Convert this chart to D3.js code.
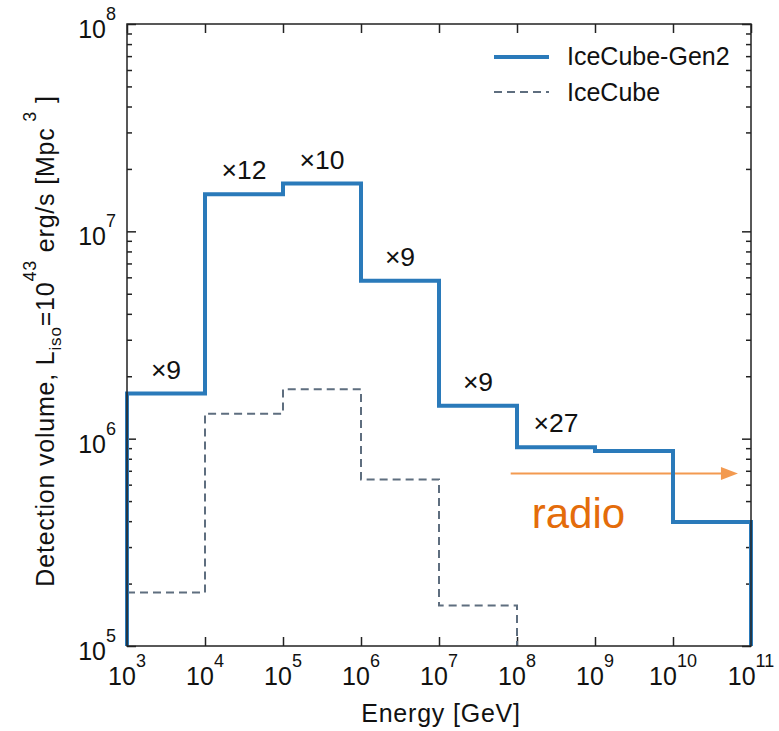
<!DOCTYPE html>
<html>
<head>
<meta charset="utf-8">
<script src="https://cdn.jsdelivr.net/npm/d3@7"></script>
<style>
  html, body { margin: 0; padding: 0; background: #fff; }
  svg { display: block; }
  text { font-family: "Liberation Sans", Arial, Helvetica, sans-serif; fill: #111; }
</style>
</head>
<body>
<svg id="chart" width="779" height="731"></svg>
<script>
// Bin edges in energy (GeV), one bin per decade
const energyEdges = [1e3, 1e4, 1e5, 1e6, 1e7, 1e8, 1e9, 1e10, 1e11];
// Detection volume per energy bin (Mpc^3), L_iso = 1e43 erg/s
const gen2Volume    = [1.65e6, 1.51e7, 1.70e7, 5.78e6, 1.44e6, 9.08e5, 8.71e5, 3.96e5];
const icecubeVolume = [1.81e5, 1.32e6, 1.73e6, 6.36e5, 1.57e5];
// Improvement factor of IceCube-Gen2 over IceCube, per bin
const gainLabels = ["×9", "×12", "×10", "×9", "×9", "×27"];
// Radio detection reach: arrow start/end energy and level
const radioArrow = { from: 8.3e7, to: 6.8e10, level: 6.8e5 };
// Axis decades
const xDecades = [3, 4, 5, 6, 7, 8, 9, 10, 11];
const yDecades = [5, 6, 7, 8];

const svg = d3.select("#chart");
const margin = { left: 127, top: 24, right: 28, bottom: 85 };
const W = 779, H = 731;
const innerW = W - margin.left - margin.right;   // 624
const innerH = H - margin.top - margin.bottom;   // 622

const x = d3.scaleLog().domain([1e3, 1e11]).range([margin.left, margin.left + innerW]);
const y = d3.scaleLog().domain([1e5, 1e8]).range([margin.top + innerH, margin.top]);
const yFloor = y.domain()[0];

const majorX = xDecades.map(e => Math.pow(10, e));
const majorY = yDecades.map(e => Math.pow(10, e));
const minorY = [];
for (let e = 5; e < 8; e++) for (let m = 2; m <= 9; m++) minorY.push(m * Math.pow(10, e));

const axisColor = "#222";
function styleAxis(g) {
  g.select(".domain").remove();
  g.selectAll(".tick line").attr("stroke", axisColor).attr("stroke-width", 1.5);
  g.selectAll(".tick text").remove();
}

// Ticks point inward on all four sides
const x0 = margin.left, x1 = margin.left + innerW;
const y0 = margin.top, y1 = margin.top + innerH;

svg.append("g").attr("transform", `translate(0,${y1})`)
  .call(d3.axisBottom(x).tickValues(majorX).tickSizeInner(-9).tickSizeOuter(0).tickFormat(""))
  .call(styleAxis);
svg.append("g").attr("transform", `translate(0,${y0})`)
  .call(d3.axisTop(x).tickValues(majorX).tickSizeInner(-9).tickSizeOuter(0).tickFormat(""))
  .call(styleAxis);
svg.append("g").attr("transform", `translate(${x0},0)`)
  .call(d3.axisLeft(y).tickValues(majorY).tickSizeInner(-9).tickSizeOuter(0).tickFormat(""))
  .call(styleAxis);
svg.append("g").attr("transform", `translate(${x0},0)`)
  .call(d3.axisLeft(y).tickValues(minorY).tickSizeInner(-5).tickSizeOuter(0).tickFormat(""))
  .call(styleAxis);
svg.append("g").attr("transform", `translate(${x1},0)`)
  .call(d3.axisRight(y).tickValues(majorY).tickSizeInner(-9).tickSizeOuter(0).tickFormat(""))
  .call(styleAxis);
svg.append("g").attr("transform", `translate(${x1},0)`)
  .call(d3.axisRight(y).tickValues(minorY).tickSizeInner(-5).tickSizeOuter(0).tickFormat(""))
  .call(styleAxis);

// Power-of-ten tick labels
function powLabel(sel, exp) {
  sel.append("tspan").attr("font-size", 25).text("10");
  sel.append("tspan").attr("font-size", 18).attr("dy", -18).text(exp);
}
xDecades.forEach(e => {
  const t = svg.append("text")
    .attr("x", x(Math.pow(10, e)))
    .attr("y", y1 + 39)
    .attr("text-anchor", "middle");
  powLabel(t, e);
});
yDecades.forEach(e => {
  const t = svg.append("text")
    .attr("x", x0 - 11)
    .attr("y", y(Math.pow(10, e)) + 14)
    .attr("text-anchor", "end");
  powLabel(t, e);
});

// Axis titles
svg.append("text")
  .attr("x", (x0 + x1) / 2 + 2)
  .attr("y", 722)
  .attr("text-anchor", "middle")
  .attr("font-size", 25)
  .attr("letter-spacing", 0.8)
  .text("Energy [GeV]");

const yTitle = svg.append("text")
  .attr("transform", `translate(54,${(y0 + y1) / 2 + 6}) rotate(-90)`)
  .attr("text-anchor", "middle")
  .attr("font-size", 25)
  .attr("letter-spacing", 0.8);
yTitle.append("tspan").text("Detection volume, L");
yTitle.append("tspan").attr("font-size", 17).attr("dy", 7).text("iso");
yTitle.append("tspan").attr("dy", -7).text("=10");
yTitle.append("tspan").attr("font-size", 18).attr("dy", -18).text("43");
yTitle.append("tspan").attr("dy", 18).text(" erg/s [Mpc");
yTitle.append("tspan").attr("font-size", 18).attr("dy", -18).text(" 3");
yTitle.append("tspan").attr("dy", 18).text(" ]");

// Step outlines built from bin edges and values
function stepPoints(values, closeLeft) {
  const pts = [];
  if (closeLeft) pts.push([energyEdges[0], yFloor]);
  values.forEach((v, i) => {
    pts.push([energyEdges[i], v]);
    pts.push([energyEdges[i + 1], v]);
  });
  pts.push([energyEdges[values.length], yFloor]);
  return pts;
}
const line = d3.line().x(d => x(d[0])).y(d => y(d[1]));

svg.append("path")
  .attr("d", line(stepPoints(icecubeVolume, false)))
  .attr("fill", "none")
  .attr("stroke", "#5e6e7f")
  .attr("stroke-width", 2)
  .attr("stroke-dasharray", "8,5");

// Radio reach arrow
const arrowY = y(radioArrow.level);
const ax0 = x(radioArrow.from), ax1 = x(radioArrow.to);
svg.append("line")
  .attr("x1", ax0).attr("x2", ax1 - 14)
  .attr("y1", arrowY).attr("y2", arrowY)
  .attr("stroke", "#f39a50").attr("stroke-width", 2);
svg.append("path")
  .attr("d", `M${ax1},${arrowY} L${ax1 - 17},${arrowY - 6.5} L${ax1 - 17},${arrowY + 6.5} Z`)
  .attr("fill", "#f39a50");

svg.append("path")
  .attr("d", line(stepPoints(gen2Volume, true)))
  .attr("fill", "none")
  .attr("stroke", "#2a7aba")
  .attr("stroke-width", 4)
  .attr("stroke-linejoin", "miter");

// Frame
svg.append("rect")
  .attr("x", x0).attr("y", y0).attr("width", innerW).attr("height", innerH)
  .attr("fill", "none").attr("stroke", axisColor).attr("stroke-width", 1.5);

// Gain annotations centred on each bin
gainLabels.forEach((lab, i) => {
  const cx = x(Math.sqrt(energyEdges[i] * energyEdges[i + 1]));
  svg.append("text")
    .attr("x", cx)
    .attr("y", y(gen2Volume[i]) - 15)
    .attr("text-anchor", "middle")
    .attr("font-size", 26.5)
    .text(lab);
});

svg.append("text")
  .attr("x", ax0 + 21)
  .attr("y", arrowY + 55)
  .attr("font-family", "Lato, 'Open Sans', sans-serif")
  .attr("font-size", 42)
  .style("fill", "#e46c0a")
  .text("radio");

// Legend
const legend = svg.append("g");
legend.append("line").attr("x1", 494).attr("x2", 549).attr("y1", 57).attr("y2", 57)
  .attr("stroke", "#2a7aba").attr("stroke-width", 4);
legend.append("text").attr("x", 567).attr("y", 65).attr("font-size", 25).text("IceCube-Gen2");
legend.append("line").attr("x1", 494).attr("x2", 549).attr("y1", 92).attr("y2", 92)
  .attr("stroke", "#5e6e7f").attr("stroke-width", 2).attr("stroke-dasharray", "8,5");
legend.append("text").attr("x", 567).attr("y", 101).attr("font-size", 25).text("IceCube");
</script>
</body>
</html>
